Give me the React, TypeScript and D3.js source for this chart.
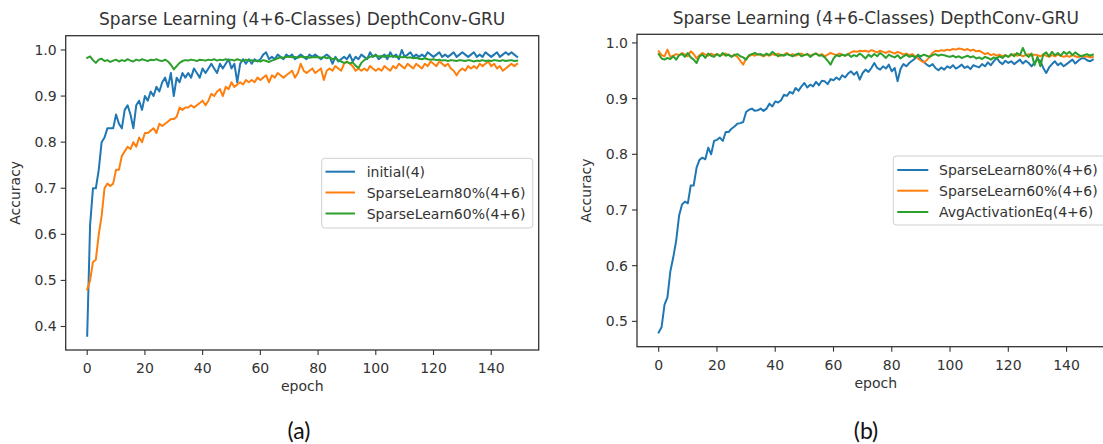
import React from "react";
import * as d3 from "d3";

// ---------- data ----------
const epochs = d3.range(0, 150);
const xTickValues = [0, 20, 40, 60, 80, 100, 120, 140];
const yTickValuesA = [0.4, 0.5, 0.6, 0.7, 0.8, 0.9, 1.0];
const yTickValuesB = [0.5, 0.6, 0.7, 0.8, 0.9, 1.0];

const titleText = "Sparse Learning (4+6-Classes) DepthConv-GRU";
const xLabelText = "epoch";
const yLabelText = "Accuracy";

const legendLabelsA = ["initial(4)", "SparseLearn80%(4+6)", "SparseLearn60%(4+6)"];
const legendLabelsB = ["SparseLearn80%(4+6)", "SparseLearn60%(4+6)", "AvgActivationEq(4+6)"];

// (a) initial(4)
const initialA = [
  0.38, 0.62, 0.70, 0.70, 0.74, 0.80, 0.81, 0.83, 0.83, 0.83,
  0.86, 0.84, 0.83, 0.87, 0.88, 0.86, 0.83, 0.88, 0.89, 0.87,
  0.90, 0.89, 0.91, 0.90, 0.92, 0.91, 0.93, 0.94, 0.92, 0.95,
  0.90, 0.94, 0.93, 0.95, 0.94, 0.95, 0.94, 0.96, 0.95, 0.94,
  0.96, 0.95, 0.96, 0.97, 0.96, 0.95, 0.97, 0.96, 0.97, 0.98,
  0.96, 0.97, 0.93, 0.97, 0.98, 0.97, 0.98, 0.97, 0.98, 0.975,
  0.98, 0.99, 0.995, 0.98, 0.985, 0.98, 0.99, 0.985, 0.98, 0.99,
  0.985, 0.99, 0.98, 0.985, 0.99, 0.985, 0.98, 0.99, 0.985, 0.99,
  0.985, 0.98, 0.985, 0.99, 0.985, 0.97, 0.985, 0.975, 0.98, 0.985,
  0.98, 0.99, 0.975, 0.985, 0.98, 0.99, 0.985, 0.98, 0.995, 0.985,
  0.99, 0.98, 0.985, 0.99, 0.98, 0.995, 0.985, 0.99, 0.98, 1.0,
  0.985, 0.99, 0.995, 0.985, 0.99, 0.985, 0.99, 0.985, 0.995, 0.99,
  0.985, 0.99, 0.995, 0.985, 0.99, 0.985, 0.99, 0.995, 0.985, 0.99,
  0.995, 0.99, 0.985, 0.99, 0.995, 0.985, 0.99, 0.985, 0.995, 0.99,
  0.985, 0.99, 0.995, 0.985, 0.99, 0.995, 0.99, 0.995, 0.99, 0.985,
];

// (a) SparseLearn80%(4+6)
const sparse80A = [
  0.48, 0.50, 0.54, 0.545, 0.60, 0.64, 0.70, 0.71, 0.705, 0.71,
  0.74, 0.74, 0.77, 0.78, 0.79, 0.785, 0.80, 0.79, 0.81, 0.80,
  0.82, 0.82, 0.825, 0.83, 0.82, 0.84, 0.835, 0.84, 0.845, 0.85,
  0.85, 0.855, 0.875, 0.87, 0.875, 0.875, 0.88, 0.875, 0.88, 0.885,
  0.89, 0.88, 0.89, 0.905, 0.90, 0.91, 0.915, 0.90, 0.92, 0.915,
  0.93, 0.92, 0.925, 0.93, 0.925, 0.935, 0.93, 0.935, 0.93, 0.94,
  0.935, 0.94, 0.945, 0.93, 0.945, 0.94, 0.95, 0.945, 0.94, 0.945,
  0.95, 0.955, 0.94, 0.95, 0.97, 0.955, 0.95, 0.955, 0.96, 0.95,
  0.955, 0.96, 0.935, 0.955, 0.96, 0.955, 0.965, 0.96, 0.955, 0.97,
  0.975, 0.97, 0.965, 0.955, 0.96, 0.955, 0.96, 0.955, 0.965, 0.96,
  0.955, 0.96, 0.955, 0.965, 0.96, 0.955, 0.965, 0.96, 0.97, 0.965,
  0.96, 0.97, 0.965, 0.96, 0.97, 0.965, 0.96, 0.97, 0.965, 0.975,
  0.97, 0.965, 0.975, 0.97, 0.965, 0.97, 0.96, 0.955, 0.945, 0.955,
  0.96, 0.955, 0.965, 0.96, 0.965, 0.96, 0.97, 0.965, 0.97, 0.975,
  0.965, 0.97, 0.96, 0.965, 0.955, 0.96, 0.965, 0.97, 0.965, 0.97,
];

// (a) SparseLearn60%(4+6)
const sparse60A = [
  0.983, 0.986, 0.978, 0.972, 0.979, 0.981, 0.976, 0.978, 0.974, 0.977,
  0.979, 0.975, 0.978, 0.976, 0.98, 0.977, 0.975, 0.979, 0.977, 0.98,
  0.978, 0.976, 0.979, 0.978, 0.98, 0.977, 0.976, 0.979, 0.975, 0.968,
  0.958, 0.965, 0.972, 0.976, 0.978, 0.977, 0.979, 0.978, 0.976, 0.979,
  0.978, 0.977, 0.979, 0.978, 0.98, 0.977, 0.979, 0.978, 0.98, 0.978,
  0.979, 0.977, 0.98, 0.978, 0.976, 0.979, 0.977, 0.978, 0.976, 0.977,
  0.975, 0.978, 0.976, 0.974, 0.977, 0.979, 0.982, 0.984, 0.983, 0.985,
  0.986, 0.984, 0.985, 0.983, 0.986, 0.984, 0.985, 0.983, 0.984, 0.985,
  0.984, 0.983, 0.985, 0.982, 0.984, 0.98, 0.982, 0.978, 0.975, 0.972,
  0.974, 0.971, 0.973, 0.966, 0.961, 0.972, 0.978, 0.982, 0.985, 0.987,
  0.988, 0.986, 0.987, 0.985, 0.988, 0.986, 0.987, 0.985, 0.986, 0.984,
  0.985, 0.983, 0.984, 0.982, 0.983, 0.981, 0.98, 0.982, 0.98, 0.979,
  0.98, 0.978, 0.979, 0.977, 0.978, 0.976, 0.978, 0.977, 0.976, 0.978,
  0.977, 0.976, 0.978, 0.977, 0.975, 0.977, 0.976, 0.978, 0.976, 0.977,
  0.976, 0.978, 0.977, 0.976, 0.978, 0.976, 0.977, 0.978, 0.976, 0.977,
];

// (b) SparseLearn80%(4+6)
const sparse80B = [
  0.48, 0.49, 0.53, 0.543, 0.59, 0.615, 0.645, 0.69, 0.71, 0.715,
  0.712, 0.744, 0.744, 0.776, 0.79, 0.794, 0.791, 0.812, 0.80, 0.824,
  0.826, 0.83, 0.824, 0.84, 0.84, 0.846, 0.85, 0.855, 0.856, 0.858,
  0.876, 0.88, 0.882, 0.878, 0.879, 0.882, 0.878, 0.882, 0.891, 0.886,
  0.895, 0.893, 0.897, 0.907, 0.905, 0.912, 0.909, 0.919, 0.914, 0.922,
  0.928, 0.92, 0.925, 0.922, 0.93, 0.924, 0.932, 0.931, 0.926, 0.935,
  0.933, 0.938, 0.934, 0.942, 0.938, 0.945, 0.949, 0.943, 0.948, 0.934,
  0.946, 0.952, 0.948, 0.955, 0.964, 0.955, 0.952, 0.958, 0.954, 0.961,
  0.949, 0.955, 0.931, 0.953, 0.962, 0.958, 0.964, 0.968, 0.972, 0.979,
  0.97, 0.966, 0.961, 0.958, 0.962, 0.955, 0.951, 0.956, 0.952, 0.958,
  0.955, 0.96, 0.954, 0.957, 0.961, 0.955, 0.958, 0.953, 0.96, 0.958,
  0.956, 0.962, 0.958, 0.965, 0.96, 0.967, 0.973, 0.966, 0.962, 0.968,
  0.964, 0.967, 0.962, 0.966, 0.97, 0.963, 0.968, 0.964, 0.958, 0.965,
  0.97, 0.968, 0.955, 0.946, 0.956, 0.962, 0.967, 0.96, 0.964, 0.958,
  0.962, 0.966, 0.97, 0.963, 0.968, 0.972, 0.973, 0.969, 0.967, 0.97,
];

// (b) SparseLearn60%(4+6)
const sparse60B = [
  0.985, 0.978, 0.976, 0.988, 0.975, 0.977, 0.98, 0.978, 0.982, 0.979,
  0.976, 0.985, 0.98, 0.972, 0.978, 0.982, 0.979, 0.977, 0.981, 0.978,
  0.98, 0.977, 0.979, 0.981, 0.978, 0.976, 0.979, 0.975, 0.968, 0.961,
  0.972, 0.976, 0.979, 0.977, 0.98, 0.978, 0.976, 0.979, 0.977, 0.98,
  0.978, 0.981, 0.977, 0.979, 0.982, 0.978, 0.98, 0.977, 0.979, 0.981,
  0.978, 0.98, 0.977, 0.979, 0.981, 0.978, 0.98, 0.976, 0.979, 0.982,
  0.98, 0.978, 0.981, 0.979, 0.977, 0.98, 0.983, 0.985, 0.984, 0.986,
  0.985, 0.986, 0.984, 0.987, 0.985, 0.983, 0.986, 0.984, 0.982, 0.985,
  0.983, 0.981, 0.984, 0.982, 0.979, 0.981, 0.978, 0.98, 0.976, 0.972,
  0.968, 0.965, 0.969, 0.975, 0.982, 0.986, 0.985, 0.987, 0.986, 0.988,
  0.987, 0.989, 0.988, 0.99, 0.989, 0.987, 0.989, 0.986, 0.988, 0.985,
  0.986, 0.983, 0.98, 0.982, 0.978, 0.98, 0.977, 0.979, 0.976, 0.978,
  0.975, 0.978, 0.98, 0.977, 0.979, 0.976, 0.978, 0.98, 0.977, 0.979,
  0.978, 0.976, 0.979, 0.977, 0.975, 0.978, 0.976, 0.979, 0.977, 0.975,
  0.977, 0.975, 0.978, 0.976, 0.974, 0.977, 0.975, 0.976, 0.974, 0.975,
];

// (b) AvgActivationEq(4+6)
const avgActB = [
  0.98, 0.972, 0.97, 0.973, 0.971, 0.976, 0.97, 0.978, 0.98, 0.975,
  0.982, 0.974, 0.97, 0.964, 0.976, 0.979, 0.973, 0.981, 0.977, 0.975,
  0.98, 0.976, 0.982, 0.977, 0.979, 0.975, 0.978, 0.98, 0.976, 0.974,
  0.97, 0.978, 0.98, 0.982, 0.979, 0.98, 0.977, 0.981, 0.978, 0.984,
  0.98, 0.976, 0.979, 0.977, 0.98, 0.978, 0.976, 0.979, 0.981, 0.976,
  0.978, 0.98, 0.975, 0.979, 0.981, 0.977, 0.978, 0.974, 0.968, 0.961,
  0.972, 0.978, 0.976, 0.979, 0.977, 0.98, 0.975, 0.978, 0.976, 0.981,
  0.977, 0.972, 0.979, 0.975, 0.98, 0.976, 0.982, 0.978, 0.973, 0.979,
  0.976, 0.974, 0.978, 0.972, 0.976, 0.979, 0.975, 0.977, 0.974, 0.978,
  0.976, 0.979, 0.977, 0.975, 0.978, 0.98, 0.977, 0.979, 0.978, 0.976,
  0.975, 0.977, 0.974, 0.976, 0.973, 0.975, 0.977, 0.974, 0.976, 0.972,
  0.974, 0.971, 0.975, 0.973, 0.97, 0.974, 0.972, 0.976, 0.973, 0.978,
  0.975, 0.98, 0.976, 0.982, 0.978, 0.991, 0.979, 0.975, 0.981, 0.96,
  0.975, 0.958, 0.979, 0.983, 0.976, 0.984, 0.978, 0.982, 0.977, 0.984,
  0.98, 0.984, 0.978, 0.983, 0.979, 0.976, 0.978, 0.98, 0.977, 0.979,
];

const seriesA = [initialA, sparse80A, sparse60A];
const seriesB = [sparse80B, sparse60B, avgActB];
const COLORS = ["#1f77b4", "#ff7f0e", "#2ca02c"];

// ---------- layout ----------
const W = 1103;
const H = 444;
const FONT = "'DejaVu Sans', sans-serif";
const AX = "#333";
const TXT = "#333";

type PanelCfg = {
  l: number; r: number; t: number; b: number;
  xDomain: [number, number];
  yDomain: [number, number];
  yTicks: number[];
  series: number[][];
  labels: string[];
  legend: { x: number; y: number; w: number; h: number; rows: number[]; lx0: number; lx1: number; tx: number };
  caption: string;
  captionX: number;
};

const panels: PanelCfg[] = [
  {
    l: 65.7, r: 538.7, t: 35.7, b: 350,
    xDomain: [-7.45, 156.45], yDomain: [0.349, 1.031],
    yTicks: yTickValuesA, series: seriesA, labels: legendLabelsA,
    legend: { x: 321.7, y: 158.3, w: 211, h: 69.7, rows: [171.7, 192.5, 213.5], lx0: 325.5, lx1: 355, tx: 366.7 },
    caption: "(a)", captionX: 299,
  },
  {
    l: 637, r: 1114.5, t: 34.3, b: 346.7,
    xDomain: [-7.45, 156.45], yDomain: [0.4545, 1.0155],
    yTicks: yTickValuesB, series: seriesB, labels: legendLabelsB,
    legend: { x: 893.3, y: 156, w: 214, h: 69, rows: [170, 190.7, 212], lx0: 897.3, lx1: 928.3, tx: 939 },
    caption: "(b)", captionX: 866,
  },
];

function Panel({ cfg, idx }: { cfg: PanelCfg; idx: number }) {
  const x = d3.scaleLinear().domain(cfg.xDomain).range([cfg.l, cfg.r]);
  const y = d3.scaleLinear().domain(cfg.yDomain).range([cfg.b, cfg.t]);
  const line = d3
    .line<number>()
    .x((_, i) => x(epochs[i]))
    .y((d) => y(d));
  const clipId = `clip-${idx}`;
  const midX = (cfg.l + cfg.r) / 2;
  const midY = (cfg.t + cfg.b) / 2;
  const lg = cfg.legend;
  return (
    <g>
      <defs>
        <clipPath id={clipId}>
          <rect x={cfg.l} y={cfg.t} width={cfg.r - cfg.l} height={cfg.b - cfg.t} />
        </clipPath>
      </defs>
      <g clipPath={`url(#${clipId})`}>
        {cfg.series.map((s, i) => (
          <path
            key={i}
            d={line(s) || ""}
            fill="none"
            stroke={COLORS[i]}
            strokeWidth={2}
            strokeLinejoin="round"
            strokeLinecap="square"
          />
        ))}
      </g>
      <rect
        x={cfg.l}
        y={cfg.t}
        width={cfg.r - cfg.l}
        height={cfg.b - cfg.t}
        fill="none"
        stroke={AX}
        strokeWidth={1.3}
      />
      {xTickValues.map((v) => (
        <g key={`xt${v}`}>
          <line x1={x(v)} x2={x(v)} y1={cfg.b} y2={cfg.b + 5} stroke={AX} strokeWidth={1.1} />
          <text x={x(v)} y={cfg.b + 23} textAnchor="middle" fontSize={14} fill={TXT} fontFamily={FONT}>
            {v}
          </text>
        </g>
      ))}
      {cfg.yTicks.map((v) => (
        <g key={`yt${v}`}>
          <line x1={cfg.l - 5} x2={cfg.l} y1={y(v)} y2={y(v)} stroke={AX} strokeWidth={1.1} />
          <text x={cfg.l - 9} y={y(v) + 5} textAnchor="end" fontSize={14} fill={TXT} fontFamily={FONT}>
            {v.toFixed(1)}
          </text>
        </g>
      ))}
      <text x={midX} y={cfg.t - 10.5} textAnchor="middle" fontSize={17} fill={TXT} fontFamily={FONT}>
        {titleText}
      </text>
      <text x={midX} y={cfg.b + 41} textAnchor="middle" fontSize={14} fill={TXT} fontFamily={FONT}>
        {xLabelText}
      </text>
      <text
        transform={`translate(${cfg.l - 46},${midY}) rotate(-90)`}
        textAnchor="middle"
        fontSize={14}
        fill={TXT}
        fontFamily={FONT}
      >
        {yLabelText}
      </text>
      <rect
        x={lg.x}
        y={lg.y}
        width={lg.w}
        height={lg.h}
        rx={3}
        fill="#fff"
        fillOpacity={0.85}
        stroke="#d0d0d0"
        strokeWidth={1}
      />
      {cfg.labels.map((lab, i) => (
        <g key={lab + i}>
          <line x1={lg.lx0} x2={lg.lx1} y1={lg.rows[i]} y2={lg.rows[i]} stroke={COLORS[i]} strokeWidth={2} />
          <text x={lg.tx} y={lg.rows[i] + 5} fontSize={14} fill={TXT} fontFamily={FONT}>
            {lab}
          </text>
        </g>
      ))}
      <text x={cfg.captionX} y={439} textAnchor="middle" fontSize={23} fill="#111" fontFamily="Lato, 'Open Sans', sans-serif">
        {cfg.caption}
      </text>
    </g>
  );
}

export default function App() {
  return (
    <svg
      width={W}
      height={H}
      viewBox={`0 0 ${W} ${H}`}
      style={{ position: "fixed", left: 0, top: 0, background: "#fff", display: "block" }}
    >
      <rect x={0} y={0} width={W} height={H} fill="#fff" />
      {panels.map((p, i) => (
        <Panel key={i} cfg={p} idx={i} />
      ))}
    </svg>
  );
}
